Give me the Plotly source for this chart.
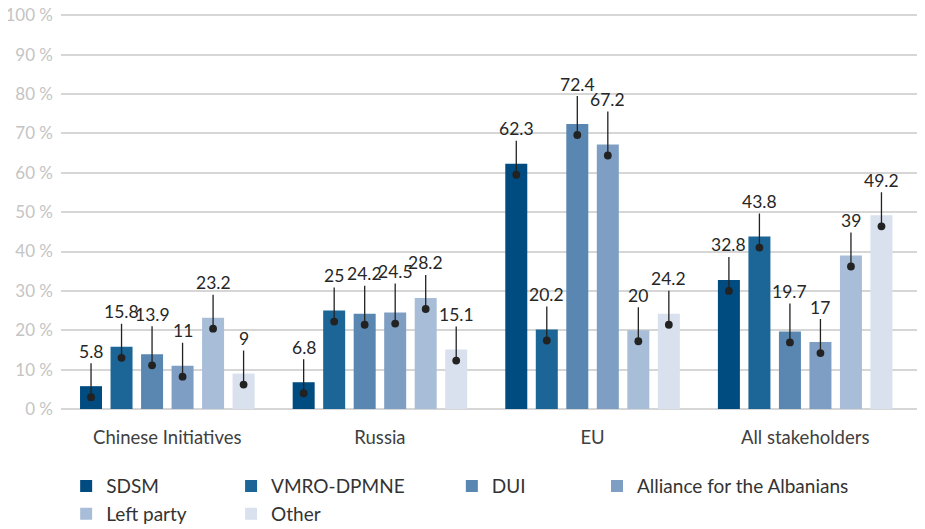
import plotly.graph_objects as go

CATEGORIAS = ["Chinese Initiatives", "Russia", "EU", "All stakeholders"]
PARTIDOS = ["SDSM", "VMRO-DPMNE", "DUI", "Alliance for the Albanians", "Left party", "Other"]

SDSM = [5.8, 6.8, 62.3, 32.8]
VMRO = [15.8, 25, 20.2, 43.8]
DUI = [13.9, 24.2, 72.4, 19.7]
ALIANZA = [11, 24.5, 67.2, 17]
IZQUIERDA = [23.2, 28.2, 20, 39]
OTROS = [9, 15.1, 24.2, 49.2]

SERIES = [SDSM, VMRO, DUI, ALIANZA, IZQUIERDA, OTROS]
COLORES = ["#004b7f", "#1b6597", "#5a87b2", "#7e9fc3", "#a8bed8", "#d9e0ee"]

# columnas de la leyenda (una leyenda vertical por columna)
LEYENDA = ["legend", "legend2", "legend3", "legend4", "legend", "legend2"]
LEYENDA_X = [0.006, 0.198, 0.455, 0.624]

# px extra para subir etiquetas que se solapan
ELEVAR = [
    [0, 0, 5, 0, 0, 0],
    [0, 0, 5, 6, 0, 0],
    [0, 0, 5, 10, 0, 0],
    [0, 0, 5, 0, 0, 0],
]

FUENTE = "Lato"
BARGAP = 0.139
GROUPGAP = 0.279

fig = go.Figure()
for i, (nombre, valores) in enumerate(zip(PARTIDOS, SERIES)):
    fig.add_trace(
        go.Bar(
            x=CATEGORIAS,
            y=valores,
            name=nombre,
            marker=dict(color=COLORES[i], line=dict(width=0)),
            legend=LEYENDA[i],
            legendgroup=nombre,
            hoverinfo="skip",
        )
    )

# etiquetas con línea y punto
n = len(SERIES)
slot = (1 - BARGAP) / n
for i, valores in enumerate(SERIES):
    for j, v in enumerate(valores):
        fig.add_annotation(
            x=j + (i - (n - 1) / 2) * slot,
            y=v,
            xref="x",
            yref="y",
            yshift=-11,
            text=f"{v:g}",
            showarrow=True,
            arrowhead=6,
            arrowsize=1.5,
            arrowwidth=1.3,
            arrowcolor="#222222",
            ax=0,
            ay=-46 - ELEVAR[j][i],
            font=dict(family=FUENTE, size=17.5, color="#262626"),
        )

leyendas = {}
for k, nombre in enumerate(["legend", "legend2", "legend3", "legend4"]):
    leyendas[nombre] = dict(
        x=LEYENDA_X[k],
        xanchor="left",
        y=-0.147,
        yanchor="top",
        orientation="v",
        font=dict(family=FUENTE, size=19, color="#333333"),
        tracegroupgap=0,
        bgcolor="rgba(0,0,0,0)",
    )

# la página añade 8 px de margen al body: la figura se ajusta a lo que queda
fig.update_layout(
    barmode="group",
    bargap=BARGAP,
    bargroupgap=GROUPGAP,
    width=917,
    height=521,
    margin=dict(l=53, r=5, t=5, b=120, autoexpand=False),
    plot_bgcolor="white",
    paper_bgcolor="white",
    font=dict(family=FUENTE),
    showlegend=True,
    **leyendas,
)
fig.update_xaxes(
    range=[-0.5, 3.54],
    showgrid=False,
    showline=False,
    ticks="",
    ticklabelstandoff=15,
    tickfont=dict(family=FUENTE, size=18.5, color="#404040"),
)
fig.update_yaxes(
    range=[0, 100.6],
    dtick=10,
    ticksuffix=" %",
    showgrid=True,
    gridcolor="#d6d6d6",
    gridwidth=2,
    zeroline=True,
    zerolinecolor="#d6d6d6",
    zerolinewidth=2,
    showline=False,
    ticklabeloverflow="allow",
    ticklabelstandoff=7,
    tickfont=dict(family=FUENTE, size=17, color="#c4c4c4"),
)

fig.write_html("out.html")
